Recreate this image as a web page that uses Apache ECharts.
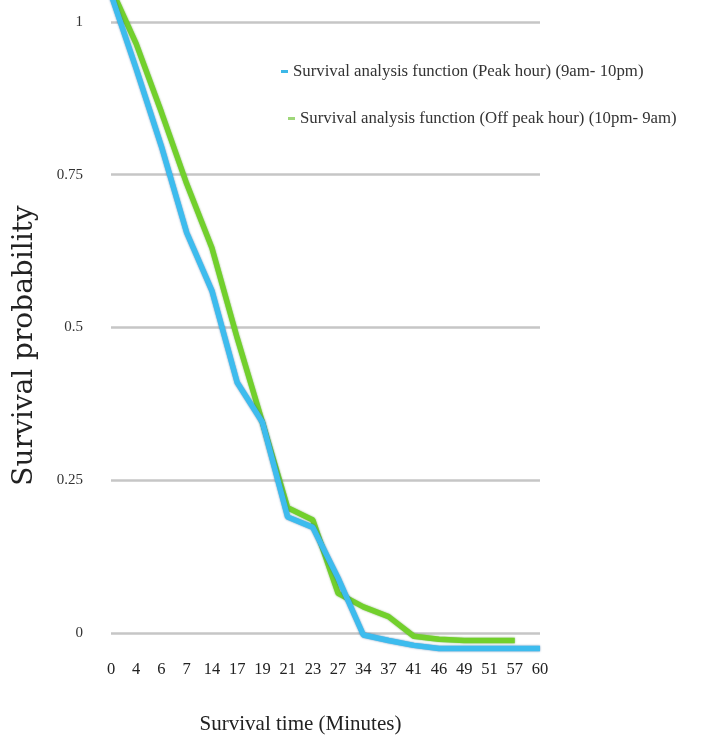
<!DOCTYPE html>
<html>
<head>
<meta charset="utf-8">
<script src="https://cdn.jsdelivr.net/npm/echarts@6/dist/echarts.min.js"></script>
<style>html,body{margin:0;padding:0;background:#fff;}#c{width:702px;height:742px;}</style>
</head>
<body>
<div id="c"></div>
<script>
const categories = ['0','4','6','7','14','17','19','21','23','27','34','37','41','46','49','51','57','60'];
const peakHour = [1.045, 0.923, 0.796, 0.655, 0.56, 0.41, 0.345, 0.19, 0.173, 0.09, -0.003, -0.012, -0.02, -0.025, -0.025, -0.025, -0.025, -0.025];
const offPeakHour = [1.055, 0.964, 0.852, 0.735, 0.63, 0.483, 0.345, 0.205, 0.185, 0.065, 0.043, 0.027, -0.005, -0.01, -0.012, -0.012, -0.012, null];
const peakName = 'Survival analysis function (Peak hour) (9am- 10pm)';
const offPeakName = 'Survival analysis function (Off peak hour) (10pm- 9am)';

const serif = '"Liberation Serif", "Times New Roman", serif';
const chart = echarts.init(document.getElementById('c'));
chart.setOption({
  animation: false,
  backgroundColor: '#ffffff',
  legend: [
    {
      data: [peakName], left: 281, top: 63, padding: 0, icon: 'rect',
      itemWidth: 7, itemHeight: 3,
      textStyle: { fontFamily: serif, fontSize: 16.8, color: '#333' }
    },
    {
      data: [offPeakName], left: 288, top: 110, padding: 0, icon: 'rect',
      itemWidth: 7, itemHeight: 3,
      textStyle: { fontFamily: serif, fontSize: 16.8, color: '#333' }
    }
  ],
  grid: { left: 111, right: 162, top: -131, bottom: -44, containLabel: false, outerBoundsMode: 'none' },
  xAxis: {
    type: 'category', data: categories, boundaryGap: false,
    position: 'bottom', offset: -153,
    axisLine: { show: false, onZero: false },
    axisTick: { show: false },
    splitLine: { show: false },
    axisLabel: { interval: 0, margin: 28, fontFamily: serif, fontSize: 16.5, color: '#222' },
    name: 'Survival time (Minutes)', nameLocation: 'middle', nameGap: 81,
    nameTextStyle: { fontFamily: serif, fontSize: 21, color: '#222', padding: [0, 50, 0, 0] }
  },
  yAxis: {
    type: 'value', min: -0.25, max: 1.25, interval: 0.25,
    axisLine: { show: false }, axisTick: { show: false },
    splitLine: { lineStyle: { color: '#c6c6c6', width: 2.5 } },
    axisLabel: {
      margin: 28, fontFamily: serif, fontSize: 15, color: '#333',
      formatter: function (v) { return (v < 0 || v > 1) ? '' : String(v); }
    },
    name: 'Survival probability', nameLocation: 'middle', nameGap: 72,
    nameTextStyle: { fontFamily: '"DejaVu Serif", serif', fontSize: 28, color: '#222', padding: [0, 36, 0, 0] }
  },
  series: [
    {
      name: offPeakName, type: 'line', data: offPeakHour, symbol: 'none', z: 2,
      itemStyle: { color: '#9fd77a' },
      lineStyle: { color: '#72d02c', width: 5.5, shadowColor: 'rgba(60,130,20,0.6)', shadowBlur: 2 }
    },
    {
      name: peakName, type: 'line', data: peakHour, symbol: 'none', z: 3,
      itemStyle: { color: '#3cb8e8' },
      lineStyle: { color: '#3dbcee', width: 5.5, shadowColor: 'rgba(20,90,150,0.7)', shadowBlur: 2 }
    }
  ]
});
</script>
</body>
</html>
